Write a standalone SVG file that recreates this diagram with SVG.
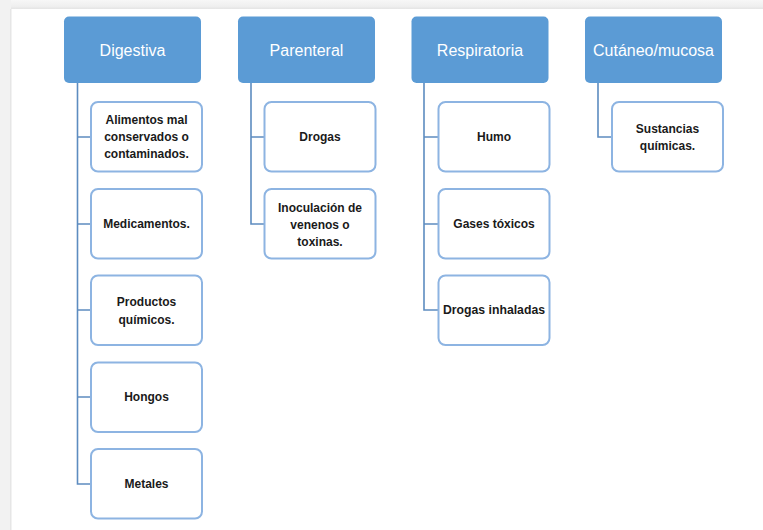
<svg xmlns="http://www.w3.org/2000/svg" width="763" height="530" viewBox="0 0 763 530">
<defs>
<linearGradient id="topg" x1="0" y1="0" x2="0" y2="1">
<stop offset="0" stop-color="#f7f7f7"/><stop offset="0.7" stop-color="#efefef"/><stop offset="1" stop-color="#e4e4e4"/>
</linearGradient>
</defs>
<style>
.hd rect{fill:#5b9bd5;}
.hd text{fill:#ffffff;font-family:"Liberation Sans",Arial,sans-serif;font-size:16px;text-anchor:middle;}
.ch rect{fill:#ffffff;stroke:#8db4e2;stroke-width:2;}
.ch text{fill:#1a1a1a;font-family:"Liberation Sans",Arial,sans-serif;font-size:12px;font-weight:bold;text-anchor:middle;}
.cn path{fill:none;stroke:#5d8cc0;stroke-width:1.6;}
</style>
<rect x="0" y="0" width="763" height="530" fill="#ffffff"/>
<rect x="0" y="0" width="763" height="9" fill="url(#topg)"/>
<rect x="0" y="0" width="11" height="530" fill="#f2f2f2"/>
<rect x="10" y="9" width="1.5" height="521" fill="#e6e6e6"/>
<g class="cn" id="connectors">
<path d="M77.5 83V484H90M77.5 137H90M77.5 224H90M77.5 310H90M77.5 397H90"/>
<path d="M251 83V224H264M251 137H264"/>
<path d="M424 83V310H438M424 137H438M424 224H438"/>
<path d="M598 83V137H612"/>
</g>
<g class="hd" id="digestiva"><rect x="64" y="16.5" width="137" height="66.5" rx="5"/><text x="132.5" y="55.5">Digestiva</text></g>
<g class="hd" id="parenteral"><rect x="238" y="16.5" width="137" height="66.5" rx="5"/><text x="306.5" y="55.5">Parenteral</text></g>
<g class="hd" id="respiratoria"><rect x="411.5" y="16.5" width="137" height="66.5" rx="5"/><text x="480" y="55.5">Respiratoria</text></g>
<g class="hd" id="cutaneo"><rect x="585" y="16.5" width="137" height="66.5" rx="5"/><text x="653.5" y="55.5">Cutáneo/mucosa</text></g>
<g class="ch" id="alimentos"><rect x="91" y="102" width="111" height="69.5" rx="7"/><text x="146.5" y="124">Alimentos mal</text><text x="146.5" y="141">conservados o</text><text x="146.5" y="158">contaminados.</text></g>
<g class="ch" id="medicamentos"><rect x="91" y="189" width="111" height="69.5" rx="7"/><text x="146.5" y="228">Medicamentos.</text></g>
<g class="ch" id="productos"><rect x="91" y="275.5" width="111" height="69.5" rx="7"/><text x="146.5" y="306">Productos</text><text x="146.5" y="323.5">químicos.</text></g>
<g class="ch" id="hongos"><rect x="91" y="362.5" width="111" height="69.5" rx="7"/><text x="146.5" y="401">Hongos</text></g>
<g class="ch" id="metales"><rect x="91" y="449" width="111" height="69.5" rx="7"/><text x="146.5" y="487.5">Metales</text></g>
<g class="ch" id="drogas"><rect x="264.5" y="102" width="111" height="69.5" rx="7"/><text x="320" y="141">Drogas</text></g>
<g class="ch" id="inoculacion"><rect x="264.5" y="189" width="111" height="69.5" rx="7"/><text x="320" y="212">Inoculación de</text><text x="320" y="229">venenos o</text><text x="320" y="245.5">toxinas.</text></g>
<g class="ch" id="humo"><rect x="438.5" y="102" width="111" height="69.5" rx="7"/><text x="494" y="141">Humo</text></g>
<g class="ch" id="gases"><rect x="438.5" y="189" width="111" height="69.5" rx="7"/><text x="494" y="228">Gases tóxicos</text></g>
<g class="ch" id="inhaladas"><rect x="438.5" y="275.5" width="111" height="69.5" rx="7"/><text x="494" y="314" textLength="102" lengthAdjust="spacingAndGlyphs">Drogas inhaladas</text></g>
<g class="ch" id="sustancias"><rect x="612" y="102" width="111" height="69.5" rx="7"/><text x="667.5" y="133">Sustancias</text><text x="667.5" y="150">químicas.</text></g>
</svg>
